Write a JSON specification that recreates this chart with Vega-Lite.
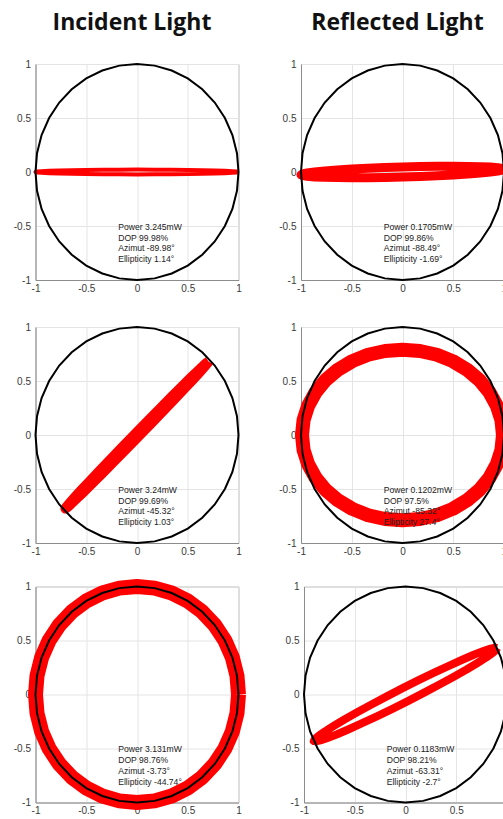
{
  "$schema": "https://vega.github.io/schema/vega-lite/v6.json",
  "background": "white",
  "padding": {"left": 12.5, "top": 11, "right": 0, "bottom": 0},
  "datasets": {
    "circle": [
      {"t":0,"x":1,"y":0},{"t":10,"x":0.985,"y":0.174},{"t":20,"x":0.94,"y":0.342},{"t":30,"x":0.866,"y":0.5},
      {"t":40,"x":0.766,"y":0.643},{"t":50,"x":0.643,"y":0.766},{"t":60,"x":0.5,"y":0.866},{"t":70,"x":0.342,"y":0.94},
      {"t":80,"x":0.174,"y":0.985},{"t":90,"x":0,"y":1},{"t":100,"x":-0.174,"y":0.985},{"t":110,"x":-0.342,"y":0.94},
      {"t":120,"x":-0.5,"y":0.866},{"t":130,"x":-0.643,"y":0.766},{"t":140,"x":-0.766,"y":0.643},{"t":150,"x":-0.866,"y":0.5},
      {"t":160,"x":-0.94,"y":0.342},{"t":170,"x":-0.985,"y":0.174},{"t":180,"x":-1,"y":0},{"t":190,"x":-0.985,"y":-0.174},
      {"t":200,"x":-0.94,"y":-0.342},{"t":210,"x":-0.866,"y":-0.5},{"t":220,"x":-0.766,"y":-0.643},{"t":230,"x":-0.643,"y":-0.766},
      {"t":240,"x":-0.5,"y":-0.866},{"t":250,"x":-0.342,"y":-0.94},{"t":260,"x":-0.174,"y":-0.985},{"t":270,"x":0,"y":-1},
      {"t":280,"x":0.174,"y":-0.985},{"t":290,"x":0.342,"y":-0.94},{"t":300,"x":0.5,"y":-0.866},{"t":310,"x":0.643,"y":-0.766},
      {"t":320,"x":0.766,"y":-0.643},{"t":330,"x":0.866,"y":-0.5},{"t":340,"x":0.94,"y":-0.342},{"t":350,"x":0.985,"y":-0.174},
      {"t":360,"x":1,"y":0}
    ],
    "curves": [
      {"panel":1,"t":0,"x":1,"y":0},{"panel":1,"t":10,"x":0.985,"y":0.0038},{"panel":1,"t":20,"x":0.94,"y":0.0075},{"panel":1,"t":30,"x":0.866,"y":0.011},
      {"panel":1,"t":40,"x":0.766,"y":0.0141},{"panel":1,"t":50,"x":0.643,"y":0.0169},{"panel":1,"t":60,"x":0.5,"y":0.0191},{"panel":1,"t":70,"x":0.342,"y":0.0207},
      {"panel":1,"t":80,"x":0.174,"y":0.0217},{"panel":1,"t":90,"x":0,"y":0.022},{"panel":1,"t":100,"x":-0.174,"y":0.0217},{"panel":1,"t":110,"x":-0.342,"y":0.0207},
      {"panel":1,"t":120,"x":-0.5,"y":0.0191},{"panel":1,"t":130,"x":-0.643,"y":0.0169},{"panel":1,"t":140,"x":-0.766,"y":0.0141},{"panel":1,"t":150,"x":-0.866,"y":0.011},
      {"panel":1,"t":160,"x":-0.94,"y":0.0075},{"panel":1,"t":170,"x":-0.985,"y":0.0038},{"panel":1,"t":180,"x":-1,"y":0},{"panel":1,"t":190,"x":-0.985,"y":-0.0038},
      {"panel":1,"t":200,"x":-0.94,"y":-0.0075},{"panel":1,"t":210,"x":-0.866,"y":-0.011},{"panel":1,"t":220,"x":-0.766,"y":-0.0141},{"panel":1,"t":230,"x":-0.643,"y":-0.0169},
      {"panel":1,"t":240,"x":-0.5,"y":-0.0191},{"panel":1,"t":250,"x":-0.342,"y":-0.0207},{"panel":1,"t":260,"x":-0.174,"y":-0.0217},{"panel":1,"t":270,"x":0,"y":-0.022},
      {"panel":1,"t":280,"x":0.174,"y":-0.0217},{"panel":1,"t":290,"x":0.342,"y":-0.0207},{"panel":1,"t":300,"x":0.5,"y":-0.0191},{"panel":1,"t":310,"x":0.643,"y":-0.0169},
      {"panel":1,"t":320,"x":0.766,"y":-0.0141},{"panel":1,"t":330,"x":0.866,"y":-0.011},{"panel":1,"t":340,"x":0.94,"y":-0.0075},{"panel":1,"t":350,"x":0.985,"y":-0.0038},
      {"panel":1,"t":360,"x":1,"y":0},

      {"panel":2,"t":0,"x":1,"y":0.026},{"panel":2,"t":10,"x":0.985,"y":0.0336},{"panel":2,"t":20,"x":0.94,"y":0.0401},{"panel":2,"t":30,"x":0.866,"y":0.0455},
      {"panel":2,"t":40,"x":0.766,"y":0.0495},{"panel":2,"t":50,"x":0.643,"y":0.0519},{"panel":2,"t":60,"x":0.5,"y":0.0528},{"panel":2,"t":70,"x":0.342,"y":0.0521},
      {"panel":2,"t":80,"x":0.174,"y":0.0498},{"panel":2,"t":90,"x":0,"y":0.046},{"panel":2,"t":100,"x":-0.174,"y":0.0408},{"panel":2,"t":110,"x":-0.342,"y":0.0343},
      {"panel":2,"t":120,"x":-0.5,"y":0.0268},{"panel":2,"t":130,"x":-0.643,"y":0.0185},{"panel":2,"t":140,"x":-0.766,"y":0.0097},{"panel":2,"t":150,"x":-0.866,"y":0.0005},
      {"panel":2,"t":160,"x":-0.94,"y":-0.0087},{"panel":2,"t":170,"x":-0.985,"y":-0.0176},{"panel":2,"t":180,"x":-1,"y":-0.026},{"panel":2,"t":190,"x":-0.985,"y":-0.0336},
      {"panel":2,"t":200,"x":-0.94,"y":-0.0401},{"panel":2,"t":210,"x":-0.866,"y":-0.0455},{"panel":2,"t":220,"x":-0.766,"y":-0.0495},{"panel":2,"t":230,"x":-0.643,"y":-0.0519},
      {"panel":2,"t":240,"x":-0.5,"y":-0.0528},{"panel":2,"t":250,"x":-0.342,"y":-0.0521},{"panel":2,"t":260,"x":-0.174,"y":-0.0498},{"panel":2,"t":270,"x":0,"y":-0.046},
      {"panel":2,"t":280,"x":0.174,"y":-0.0408},{"panel":2,"t":290,"x":0.342,"y":-0.0343},{"panel":2,"t":300,"x":0.5,"y":-0.0268},{"panel":2,"t":310,"x":0.643,"y":-0.0185},
      {"panel":2,"t":320,"x":0.766,"y":-0.0097},{"panel":2,"t":330,"x":0.866,"y":-0.0005},{"panel":2,"t":340,"x":0.94,"y":0.0087},{"panel":2,"t":350,"x":0.985,"y":0.0176},
      {"panel":2,"t":360,"x":1,"y":0.026},

      {"panel":3,"t":0,"x":0.705,"y":0.681},{"panel":3,"t":10,"x":0.692,"y":0.673},{"panel":3,"t":20,"x":0.658,"y":0.645},{"panel":3,"t":30,"x":0.604,"y":0.597},
      {"panel":3,"t":40,"x":0.531,"y":0.531},{"panel":3,"t":50,"x":0.443,"y":0.449},{"panel":3,"t":60,"x":0.341,"y":0.353},{"panel":3,"t":70,"x":0.228,"y":0.246},
      {"panel":3,"t":80,"x":0.109,"y":0.132},{"panel":3,"t":90,"x":-0.014,"y":0.014},{"panel":3,"t":100,"x":-0.136,"y":-0.104},{"panel":3,"t":110,"x":-0.254,"y":-0.219},
      {"panel":3,"t":120,"x":-0.365,"y":-0.328},{"panel":3,"t":130,"x":-0.464,"y":-0.427},{"panel":3,"t":140,"x":-0.549,"y":-0.512},{"panel":3,"t":150,"x":-0.618,"y":-0.583},
      {"panel":3,"t":160,"x":-0.667,"y":-0.635},{"panel":3,"t":170,"x":-0.697,"y":-0.668},{"panel":3,"t":180,"x":-0.705,"y":-0.681},{"panel":3,"t":190,"x":-0.692,"y":-0.673},
      {"panel":3,"t":200,"x":-0.658,"y":-0.645},{"panel":3,"t":210,"x":-0.604,"y":-0.597},{"panel":3,"t":220,"x":-0.531,"y":-0.531},{"panel":3,"t":230,"x":-0.443,"y":-0.449},
      {"panel":3,"t":240,"x":-0.341,"y":-0.353},{"panel":3,"t":250,"x":-0.228,"y":-0.246},{"panel":3,"t":260,"x":-0.109,"y":-0.132},{"panel":3,"t":270,"x":0.014,"y":-0.014},
      {"panel":3,"t":280,"x":0.136,"y":0.104},{"panel":3,"t":290,"x":0.254,"y":0.219},{"panel":3,"t":300,"x":0.365,"y":0.328},{"panel":3,"t":310,"x":0.464,"y":0.427},
      {"panel":3,"t":320,"x":0.549,"y":0.512},{"panel":3,"t":330,"x":0.618,"y":0.583},{"panel":3,"t":340,"x":0.667,"y":0.635},{"panel":3,"t":350,"x":0.697,"y":0.668},
      {"panel":3,"t":360,"x":0.705,"y":0.681},

      {"panel":4,"t":0,"x":0.99,"y":0},{"panel":4,"t":10,"x":0.975,"y":0.137},{"panel":4,"t":20,"x":0.93,"y":0.27},{"panel":4,"t":30,"x":0.857,"y":0.395},
      {"panel":4,"t":40,"x":0.758,"y":0.508},{"panel":4,"t":50,"x":0.636,"y":0.605},{"panel":4,"t":60,"x":0.495,"y":0.684},{"panel":4,"t":70,"x":0.339,"y":0.743},
      {"panel":4,"t":80,"x":0.172,"y":0.778},{"panel":4,"t":90,"x":0,"y":0.79},{"panel":4,"t":100,"x":-0.172,"y":0.778},{"panel":4,"t":110,"x":-0.339,"y":0.743},
      {"panel":4,"t":120,"x":-0.495,"y":0.684},{"panel":4,"t":130,"x":-0.636,"y":0.605},{"panel":4,"t":140,"x":-0.758,"y":0.508},{"panel":4,"t":150,"x":-0.857,"y":0.395},
      {"panel":4,"t":160,"x":-0.93,"y":0.27},{"panel":4,"t":170,"x":-0.975,"y":0.137},{"panel":4,"t":180,"x":-0.99,"y":0},{"panel":4,"t":190,"x":-0.975,"y":-0.137},
      {"panel":4,"t":200,"x":-0.93,"y":-0.27},{"panel":4,"t":210,"x":-0.857,"y":-0.395},{"panel":4,"t":220,"x":-0.758,"y":-0.508},{"panel":4,"t":230,"x":-0.636,"y":-0.605},
      {"panel":4,"t":240,"x":-0.495,"y":-0.684},{"panel":4,"t":250,"x":-0.339,"y":-0.743},{"panel":4,"t":260,"x":-0.172,"y":-0.778},{"panel":4,"t":270,"x":0,"y":-0.79},
      {"panel":4,"t":280,"x":0.172,"y":-0.778},{"panel":4,"t":290,"x":0.339,"y":-0.743},{"panel":4,"t":300,"x":0.495,"y":-0.684},{"panel":4,"t":310,"x":0.636,"y":-0.605},
      {"panel":4,"t":320,"x":0.758,"y":-0.508},{"panel":4,"t":330,"x":0.857,"y":-0.395},{"panel":4,"t":340,"x":0.93,"y":-0.27},{"panel":4,"t":350,"x":0.975,"y":-0.137},
      {"panel":4,"t":360,"x":0.99,"y":0},

      {"panel":6,"t":0,"x":0.903,"y":0.431},{"panel":6,"t":10,"x":0.884,"y":0.434},{"panel":6,"t":20,"x":0.839,"y":0.425},{"panel":6,"t":30,"x":0.768,"y":0.402},
      {"panel":6,"t":40,"x":0.673,"y":0.368},{"panel":6,"t":50,"x":0.559,"y":0.322},{"panel":6,"t":60,"x":0.427,"y":0.266},{"panel":6,"t":70,"x":0.282,"y":0.202},
      {"panel":6,"t":80,"x":0.129,"y":0.133},{"panel":6,"t":90,"x":-0.028,"y":0.059},{"panel":6,"t":100,"x":-0.184,"y":-0.017},{"panel":6,"t":110,"x":-0.335,"y":-0.092},
      {"panel":6,"t":120,"x":-0.476,"y":-0.165},{"panel":6,"t":130,"x":-0.602,"y":-0.232},{"panel":6,"t":140,"x":-0.709,"y":-0.292},{"panel":6,"t":150,"x":-0.796,"y":-0.343},
      {"panel":6,"t":160,"x":-0.858,"y":-0.384},{"panel":6,"t":170,"x":-0.894,"y":-0.414},{"panel":6,"t":180,"x":-0.903,"y":-0.431},{"panel":6,"t":190,"x":-0.884,"y":-0.434},
      {"panel":6,"t":200,"x":-0.839,"y":-0.425},{"panel":6,"t":210,"x":-0.768,"y":-0.402},{"panel":6,"t":220,"x":-0.673,"y":-0.368},{"panel":6,"t":230,"x":-0.559,"y":-0.322},
      {"panel":6,"t":240,"x":-0.427,"y":-0.266},{"panel":6,"t":250,"x":-0.282,"y":-0.202},{"panel":6,"t":260,"x":-0.129,"y":-0.133},{"panel":6,"t":270,"x":0.028,"y":-0.059},
      {"panel":6,"t":280,"x":0.184,"y":0.017},{"panel":6,"t":290,"x":0.335,"y":0.092},{"panel":6,"t":300,"x":0.476,"y":0.165},{"panel":6,"t":310,"x":0.602,"y":0.232},
      {"panel":6,"t":320,"x":0.709,"y":0.292},{"panel":6,"t":330,"x":0.796,"y":0.343},{"panel":6,"t":340,"x":0.858,"y":0.384},{"panel":6,"t":350,"x":0.894,"y":0.414},
      {"panel":6,"t":360,"x":0.903,"y":0.431}
    ],
    "notes": [
      {"panel":1,"note":"Power 3.245mW|DOP 99.98%|Azimut -89.98°|Ellipticity 1.14°"},
      {"panel":2,"note":"Power 0.1705mW|DOP 99.86%|Azimut -88.49°|Ellipticity -1.69°"},
      {"panel":3,"note":"Power 3.24mW|DOP 99.69%|Azimut -45.32°|Ellipticity 1.03°"},
      {"panel":4,"note":"Power 0.1202mW|DOP 97.5%|Azimut -85.32°|Ellipticity 27.4°"},
      {"panel":5,"note":"Power 3.131mW|DOP 98.76%|Azimut -3.73°|Ellipticity -44.74°"},
      {"panel":6,"note":"Power 0.1183mW|DOP 98.21%|Azimut -63.31°|Ellipticity -2.7°"}
    ]
  },
  "spacing": 27,
  "vconcat": [
    {
      "spacing": 34.5,
      "hconcat": [
        {
          "width": 203, "height": 216,
          "title": {"text": "Incident Light", "dx": -5},
          "layer": [
            {"data": {"name": "curves"}, "transform": [{"filter": "datum.panel == 1"}],
             "mark": {"type": "line", "color": "#ff0000", "strokeWidth": 4, "strokeJoin": "round"},
             "encoding": {
               "x": {"field": "x", "type": "quantitative", "scale": {"domain": [-1, 1], "nice": false}, "axis": {"values": [-1, -0.5, 0, 0.5, 1], "labelExpr": "'' + datum.value"}},
               "y": {"field": "y", "type": "quantitative", "scale": {"domain": [-1, 1], "nice": false}, "axis": {"values": [-1, -0.5, 0, 0.5, 1], "labelExpr": "'' + datum.value"}},
               "order": {"field": "t"}}},
            {"data": {"name": "circle"}, "mark": {"type": "line", "color": "#000000", "strokeWidth": 2},
             "encoding": {"x": {"field": "x", "type": "quantitative"}, "y": {"field": "y", "type": "quantitative"}, "order": {"field": "t"}}},
            {"data": {"name": "notes"}, "transform": [{"filter": "datum.panel == 1"}], "mark": {"type": "text"},
             "encoding": {"x": {"datum": -0.185}, "y": {"datum": -0.537}, "text": {"field": "note"}}}
          ]
        },
        {
          "width": 203, "height": 216,
          "title": {"text": "Reflected Light", "dx": -5},
          "layer": [
            {"data": {"name": "curves"}, "transform": [{"filter": "datum.panel == 2"}],
             "mark": {"type": "line", "color": "#ff0000", "strokeWidth": 9, "strokeJoin": "round"},
             "encoding": {
               "x": {"field": "x", "type": "quantitative", "scale": {"domain": [-1, 1], "nice": false}, "axis": {"values": [-1, -0.5, 0, 0.5, 1], "labelExpr": "'' + datum.value"}},
               "y": {"field": "y", "type": "quantitative", "scale": {"domain": [-1, 1], "nice": false}, "axis": {"values": [-1, -0.5, 0, 0.5, 1], "labelExpr": "'' + datum.value"}},
               "order": {"field": "t"}}},
            {"data": {"name": "circle"}, "mark": {"type": "line", "color": "#000000", "strokeWidth": 2},
             "encoding": {"x": {"field": "x", "type": "quantitative"}, "y": {"field": "y", "type": "quantitative"}, "order": {"field": "t"}}},
            {"data": {"name": "notes"}, "transform": [{"filter": "datum.panel == 2"}], "mark": {"type": "text"},
             "encoding": {"x": {"datum": -0.185}, "y": {"datum": -0.537}, "text": {"field": "note"}}}
          ]
        }
      ]
    },
    {
      "spacing": 21.5,
      "vconcat": [
        {
          "spacing": 34.5,
          "hconcat": [
            {
              "width": 203, "height": 216,
              "layer": [
                {"data": {"name": "curves"}, "transform": [{"filter": "datum.panel == 3"}],
                 "mark": {"type": "line", "color": "#ff0000", "strokeWidth": 10, "strokeJoin": "round"},
                 "encoding": {
                   "x": {"field": "x", "type": "quantitative", "scale": {"domain": [-1, 1], "nice": false}, "axis": {"values": [-1, -0.5, 0, 0.5, 1], "labelExpr": "'' + datum.value"}},
                   "y": {"field": "y", "type": "quantitative", "scale": {"domain": [-1, 1], "nice": false}, "axis": {"values": [-1, -0.5, 0, 0.5, 1], "labelExpr": "'' + datum.value"}},
                   "order": {"field": "t"}}},
                {"data": {"name": "circle"}, "mark": {"type": "line", "color": "#000000", "strokeWidth": 2},
                 "encoding": {"x": {"field": "x", "type": "quantitative"}, "y": {"field": "y", "type": "quantitative"}, "order": {"field": "t"}}},
                {"data": {"name": "notes"}, "transform": [{"filter": "datum.panel == 3"}], "mark": {"type": "text"},
                 "encoding": {"x": {"datum": -0.185}, "y": {"datum": -0.537}, "text": {"field": "note"}}}
              ]
            },
            {
              "width": 203, "height": 216,
              "layer": [
                {"data": {"name": "curves"}, "transform": [{"filter": "datum.panel == 4"}],
                 "mark": {"type": "line", "color": "#ff0000", "strokeWidth": 14, "strokeJoin": "round"},
                 "encoding": {
                   "x": {"field": "x", "type": "quantitative", "scale": {"domain": [-1, 1], "nice": false}, "axis": {"values": [-1, -0.5, 0, 0.5, 1], "labelExpr": "'' + datum.value"}},
                   "y": {"field": "y", "type": "quantitative", "scale": {"domain": [-1, 1], "nice": false}, "axis": {"values": [-1, -0.5, 0, 0.5, 1], "labelExpr": "'' + datum.value"}},
                   "order": {"field": "t"}}},
                {"data": {"name": "circle"}, "mark": {"type": "line", "color": "#000000", "strokeWidth": 2},
                 "encoding": {"x": {"field": "x", "type": "quantitative"}, "y": {"field": "y", "type": "quantitative"}, "order": {"field": "t"}}},
                {"data": {"name": "notes"}, "transform": [{"filter": "datum.panel == 4"}], "mark": {"type": "text"},
                 "encoding": {"x": {"datum": -0.185}, "y": {"datum": -0.537}, "text": {"field": "note"}}}
              ]
            }
          ]
        },
        {
          "spacing": 34.5,
          "hconcat": [
            {
              "width": 203, "height": 216,
              "layer": [
                {"data": {"name": "circle"},
                 "mark": {"type": "line", "color": "#ff0000", "strokeWidth": 15, "strokeJoin": "round"},
                 "encoding": {
                   "x": {"field": "x", "type": "quantitative", "scale": {"domain": [-1, 1], "nice": false}, "axis": {"values": [-1, -0.5, 0, 0.5, 1], "labelExpr": "'' + datum.value"}},
                   "y": {"field": "y", "type": "quantitative", "scale": {"domain": [-1, 1], "nice": false}, "axis": {"values": [-1, -0.5, 0, 0.5, 1], "labelExpr": "'' + datum.value"}},
                   "order": {"field": "t"}}},
                {"data": {"name": "circle"}, "mark": {"type": "line", "color": "#000000", "strokeWidth": 2},
                 "encoding": {"x": {"field": "x", "type": "quantitative"}, "y": {"field": "y", "type": "quantitative"}, "order": {"field": "t"}}},
                {"data": {"name": "notes"}, "transform": [{"filter": "datum.panel == 5"}], "mark": {"type": "text"},
                 "encoding": {"x": {"datum": -0.185}, "y": {"datum": -0.537}, "text": {"field": "note"}}}
              ]
            },
            {
              "width": 203, "height": 216,
              "layer": [
                {"data": {"name": "curves"}, "transform": [{"filter": "datum.panel == 6"}],
                 "mark": {"type": "line", "color": "#ff0000", "strokeWidth": 8, "strokeJoin": "round"},
                 "encoding": {
                   "x": {"field": "x", "type": "quantitative", "scale": {"domain": [-1, 1], "nice": false}, "axis": {"values": [-1, -0.5, 0, 0.5, 1], "labelExpr": "'' + datum.value"}},
                   "y": {"field": "y", "type": "quantitative", "scale": {"domain": [-1, 1], "nice": false}, "axis": {"values": [-1, -0.5, 0, 0.5, 1], "labelExpr": "'' + datum.value"}},
                   "order": {"field": "t"}}},
                {"data": {"name": "circle"}, "mark": {"type": "line", "color": "#000000", "strokeWidth": 2},
                 "encoding": {"x": {"field": "x", "type": "quantitative"}, "y": {"field": "y", "type": "quantitative"}, "order": {"field": "t"}}},
                {"data": {"name": "notes"}, "transform": [{"filter": "datum.panel == 6"}], "mark": {"type": "text"},
                 "encoding": {"x": {"datum": -0.185}, "y": {"datum": -0.537}, "text": {"field": "note"}}}
              ]
            }
          ]
        }
      ]
    }
  ],
  "config": {
    "view": {"stroke": "#b4b4b4", "strokeWidth": 1},
    "axis": {
      "grid": true, "gridColor": "#e4e4e4", "gridWidth": 1,
      "domainColor": "#8c8c8c", "tickSize": 0,
      "labelFont": "Liberation Sans", "labelFontSize": 10, "labelColor": "#3a3a3a",
      "labelFlush": false, "labelOverlap": false, "title": null
    },
    "axisX": {"labelPadding": 3},
    "axisY": {"labelPadding": 5},
    "text": {"align": "left", "baseline": "alphabetic", "lineBreak": "|", "lineHeight": 10.7,
             "font": "Liberation Sans", "fontSize": 8.6, "color": "#222222"},
    "title": {"font": "Open Sans", "fontSize": 23, "fontWeight": "bold", "color": "#111111",
              "anchor": "middle", "baseline": "alphabetic", "offset": 24}
  }
}
